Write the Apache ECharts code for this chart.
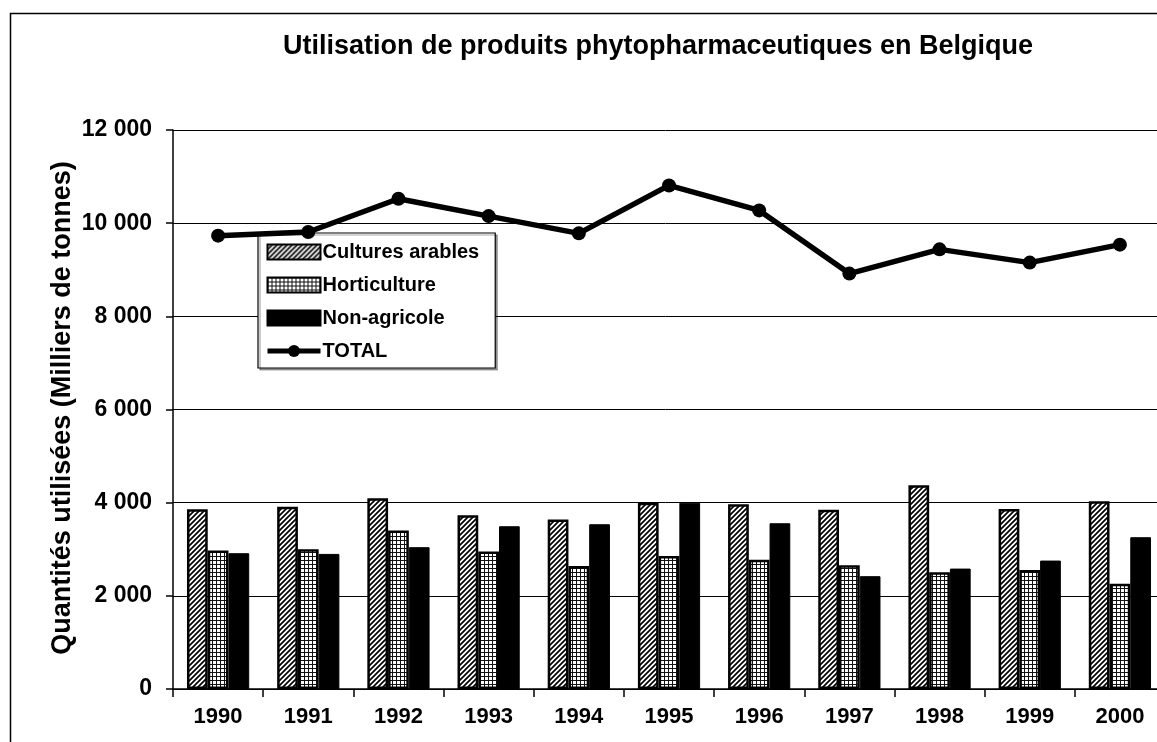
<!DOCTYPE html>
<html><head><meta charset="utf-8">
<script src="https://cdn.jsdelivr.net/npm/echarts@6/dist/echarts.min.js"></script>
<style>html,body{margin:0;padding:0;background:#fff}#c{width:1157px;height:742px}</style>
</head><body><div id="c"></div>
<script>
const years = ['1990','1991','1992','1993','1994','1995','1996','1997','1998','1999','2000'];
const culturesArables = [3858,3914,4094,3730,3636,4000,3965,3850,4373,3865,4030];
const horticulture = [2971,3001,3400,2950,2643,2857,2772,2658,2508,2557,2257];
const nonAgricole = [2915,2900,3044,3494,3537,4000,3558,2422,2585,2757,3258];
const total = [9732,9810,10525,10152,9781,10810,10274,8917,9438,9153,9539];
const yMin = 0, yMax = 12000, yStep = 2000;
const yTitle = 'Quantités utilisées (Milliers de tonnes)';

function hatch(){
  const s=5, c=document.createElement('canvas'); c.width=c.height=s;
  const g=c.getContext('2d'); g.fillStyle='#fff'; g.fillRect(0,0,s,s);
  g.strokeStyle='#000'; g.lineWidth=1.7; g.beginPath();
  g.moveTo(-1,s+1); g.lineTo(s+1,-1);
  g.moveTo(-2,2); g.lineTo(2,-2);
  g.moveTo(s-2,s+2); g.lineTo(s+2,s-2);
  g.stroke(); return c;
}
function grid(){
  const s=4, c=document.createElement('canvas'); c.width=c.height=s;
  const g=c.getContext('2d'); g.fillStyle='#fff'; g.fillRect(0,0,s,s);
  g.fillStyle='#111'; g.fillRect(0,0,s,1); g.fillRect(0,0,1,s); return c;
}
const FONT='Arial, "Liberation Sans", sans-serif';
const chart = echarts.init(document.getElementById('c'), null, {renderer:'canvas'});
chart.setOption({
  animation:false,
  backgroundColor:'#fff',
  title:{text:'Utilisation de produits phytopharmaceutiques en Belgique', left:653, top:28, textAlign:'center',
    textStyle:{fontFamily:FONT, fontWeight:'bold', fontSize:27, color:'#000'}},
  graphic:[
    {type:'rect', silent:true, z:-10, shape:{x:10.5,y:13.5,width:1300,height:1000}, style:{fill:'none',stroke:'#000',lineWidth:1.5}},
    {type:'text', silent:true, x:63, y:408, rotation:Math.PI/2,
      style:{text:yTitle, align:'center', verticalAlign:'middle', fill:'#000',
        font:'bold 27px Arial, "Liberation Sans", sans-serif'}}
  ],
  legend:{orient:'vertical', left:258, top:233, padding:[9,16,7,7], itemGap:13, itemWidth:53, itemHeight:15,
    backgroundColor:'#fff', borderColor:'#000', borderWidth:1.2,
    shadowColor:'rgba(0,0,0,0.35)', shadowOffsetX:2, shadowOffsetY:2, shadowBlur:0,
    textStyle:{fontFamily:FONT, fontWeight:'bold', fontSize:20, color:'#000', padding:[0,0,0,-3]},
    data:[{name:'Cultures arables', icon:'rect'},{name:'Horticulture', icon:'rect'},{name:'Non-agricole', icon:'rect'},
      {name:'TOTAL', lineStyle:{width:5, color:'#000'}}]},
  grid:{left:173, right:-8, top:130, bottom:53, containLabel:false, outerBoundsMode:'none'},
  xAxis:{type:'category', data:years, boundaryGap:true,
    axisLine:{lineStyle:{color:'#000', width:1.5}},
    axisTick:{show:true, length:8, alignWithLabel:false, lineStyle:{color:'#000', width:1.5}},
    axisLabel:{fontFamily:FONT, fontWeight:'bold', fontSize:22, color:'#000', margin:17}},
  yAxis:{type:'value', min:yMin, max:yMax, interval:yStep,
    axisLine:{show:true, lineStyle:{color:'#000', width:1.5}},
    axisTick:{show:true, length:7, lineStyle:{color:'#000', width:1.5}},
    splitLine:{show:true, lineStyle:{color:'#000', width:1}},
    axisLabel:{fontFamily:FONT, fontWeight:'bold', fontSize:23, color:'#000', margin:21,
      formatter:v=>String(v).replace(/\B(?=(\d{3})+(?!\d))/g,' ')}},
  series:[
    {name:'Cultures arables', type:'bar', data:culturesArables, barGap:'0%', barCategoryGap:'31%',
      itemStyle:{color:{image:hatch(), repeat:'repeat'}, borderColor:'#000', borderWidth:2.5}},
    {name:'Horticulture', type:'bar', data:horticulture, barGap:'0%', barCategoryGap:'31%',
      itemStyle:{color:{image:grid(), repeat:'repeat'}, borderColor:'#000', borderWidth:2.5}},
    {name:'Non-agricole', type:'bar', data:nonAgricole, barGap:'0%', barCategoryGap:'31%',
      itemStyle:{color:'#000', borderColor:'#000', borderWidth:1}},
    {name:'TOTAL', type:'line', data:total, z:5, symbol:'circle', symbolSize:14,
      lineStyle:{color:'#000', width:5.5}, itemStyle:{color:'#000'}}
  ]
});
</script></body></html>
